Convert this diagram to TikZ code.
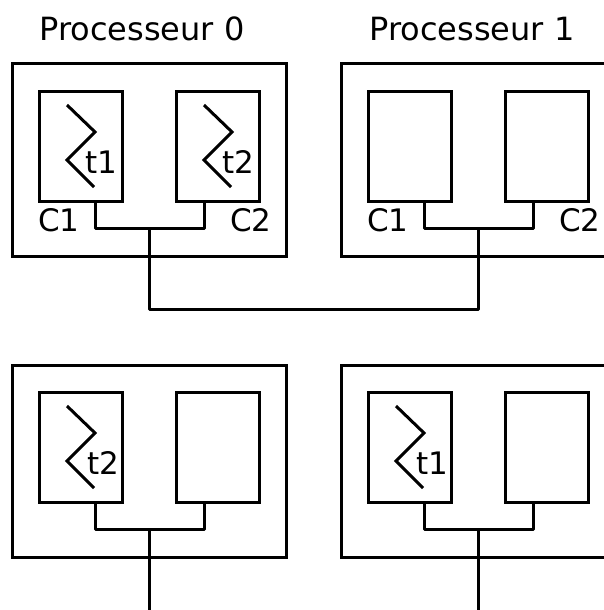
\documentclass[tikz,border=0pt]{standalone}
\usepackage{fontspec}
\setmainfont{DejaVu Sans}
\newcommand{\threadmark}[1]{%
  \draw[wire,line cap=butt,line join=miter] ([shift={(28,14)}]#1.north west) -- ([shift={(56,41)}]#1.north west) -- ([shift={(28,69)}]#1.north west) -- ([shift={(55,96)}]#1.north west);}
\begin{document}
\begin{tikzpicture}[x=1pt,y=-1pt,
  wire/.style={line width=3pt,black},
  outerbox/.style={draw,line width=3pt,rectangle,inner sep=0pt,outer sep=0pt,minimum width=274pt,minimum height=192pt},
  corebox/.style={draw,line width=3pt,rectangle,inner sep=0pt,outer sep=0pt,minimum width=83pt,minimum height=110pt},
  lbl/.style={inner sep=0pt,outer sep=0pt,font=\fontsize{31}{34}\selectfont,anchor=base},
  ttl/.style={inner sep=0pt,outer sep=0pt,font=\fontsize{32}{35}\selectfont,anchor=base}]
\useasboundingbox (0,0) rectangle (604,610);
\clip (0,0) rectangle (604,610);
\node[ttl] (p0) at (142,40.5) {Processeur 0};
\node[ttl] (p1) at (472,40.5) {Processeur 1};
% outer boxes
\node[outerbox] (oa) at (149,160) {};
\node[outerbox] (ob) at (478,160) {};
\node[outerbox] (oc) at (149,461) {};
\node[outerbox] (od) at (478,461) {};
% core boxes
\node[corebox] (a1) at (80.5,146) {};
\node[corebox] (a2) at (217.5,146) {};
\node[corebox] (b1) at (409.5,146) {};
\node[corebox] (b2) at (546.5,146) {};
\node[corebox] (c1) at (80.5,447) {};
\node[corebox] (c2) at (217.5,447) {};
\node[corebox] (d1) at (409.5,447) {};
\node[corebox] (d2) at (546.5,447) {};
% threads
\threadmark{a1}\threadmark{a2}\threadmark{c1}\threadmark{d1}
\node[lbl] (ta) at (101,173.5) {t1};
\node[lbl] (tb) at (238,173.5) {t2};
\node[lbl] (tc) at (103,474.5) {t2};
\node[lbl] (td) at (432,474.5) {t1};
% cache labels
\node[lbl] (la1) at (59,231) {C1};
\node[lbl] (la2) at (251,231) {C2};
\node[lbl] (lb1) at (388,231) {C1};
\node[lbl] (lb2) at (580,231) {C2};
% buses
\coordinate (ja) at (149,228);
\coordinate (jb) at (478,228);
\coordinate (jc) at (149,529);
\coordinate (jd) at (478,529);
\coordinate (endc) at (149,610);
\coordinate (endd) at (478,610);
\draw[wire,line join=round] ([xshift=14.5pt]a1.south) |- (ja) -| ([xshift=-13.5pt]a2.south);
\draw[wire,line join=round] ([xshift=14.5pt]b1.south) |- (jb) -| ([xshift=-13.5pt]b2.south);
\draw[wire,line join=round] ([xshift=14.5pt]c1.south) |- (jc) -| ([xshift=-13.5pt]c2.south);
\draw[wire,line join=round] ([xshift=14.5pt]d1.south) |- (jd) -| ([xshift=-13.5pt]d2.south);
\draw[wire,line join=round] (ja) |- (149,309) -| (jb);
\draw[wire] (jc) -- (endc);
\draw[wire] (jd) -- (endd);
\end{tikzpicture}
\end{document}
